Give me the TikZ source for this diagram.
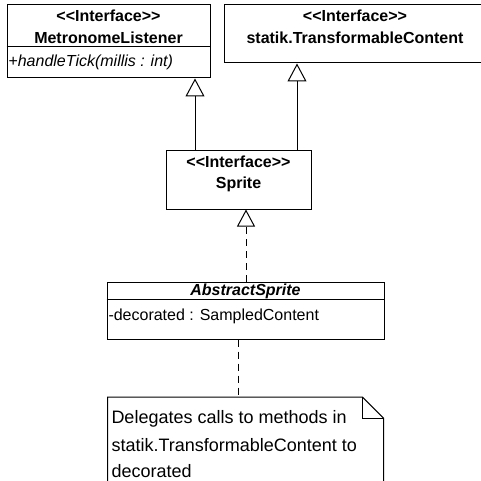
\documentclass[tikz,border=0pt]{standalone}
\usepackage{fontspec}
\setmainfont{Liberation Sans}
\usetikzlibrary{arrows.meta}

\begin{document}
\begin{tikzpicture}[x=1pt,y=-1pt,line width=1pt,
        box/.style={draw,rectangle,inner sep=0pt},
        txt/.style={inner sep=0pt,anchor=base,font=\fontsize{16}{19}\selectfont},
        notetxt/.style={inner sep=0pt,anchor=base west,font=\fontsize{18}{27}\selectfont},
        gen/.style={-{Triangle[open,length=18pt,width=19pt]}},
        dash line/.style={dash pattern=on 7pt off 5pt},
        real/.style={dash line,-{Triangle[open,length=17pt,width=18pt]}}]
         \useasboundingbox[fill=white](0,0) rectangle (481,481);
         \clip (0,0) rectangle (481,481);

         \node[box,minimum width=203pt,minimum height=73pt](M) at (108.5,41.5) {};
         \node[txt](M1) at (108.5,22) {\bfseries <{}<Interface>{}>};
         \node[txt](M2) at (108.5,43.5) {\bfseries MetronomeListener};
         \node[txt,anchor=base west](M3) at (8,67) {\itshape +handleTick(millis : int)};
         \draw(M.west |- 0,47) -- (M.east |- 0,47);

         \node[box,minimum width=262pt,minimum height=58pt](T) at (355,34) {};
         \node[txt](T1) at (355,22) {\bfseries <{}<Interface>{}>};
         \node[txt](T2) at (355,43.5) {\bfseries statik.TransformableContent};

         \node[box,minimum width=145pt,minimum height=58pt](S) at (238.5,180) {};
         \node[txt](S1) at (238.5,167.5) {\bfseries <{}<Interface>{}>};
         \node[txt](S2) at (238.5,188) {\bfseries Sprite};

         \node[box,minimum width=277pt,minimum height=57pt](A) at (245.5,310.5) {};
         \node[txt](A1) at (245.5,295) {\bfseries\itshape AbstractSprite};
         \node[txt,anchor=base west](A2) at (108,320) {-decorated : SampledContent};
         \draw(A.west |- 0,299) -- (A.east |- 0,299);

         \node[minimum width=275pt,minimum height=120pt,inner sep=0pt](N) at (245.5,457.7) {};
         \draw(N.south west) -- (N.north west) -- ([xshift=-21pt]N.north east) -- ([yshift=-21pt]N.north east) -- (N.south east);
         \draw([xshift=-21pt]N.north east) -- ++(0,21) -- ++(21,0);
         \node[notetxt](N1) at (111,423) {Delegates calls to methods in};
         \node[notetxt](N2) at (111,451) {statik.TransformableContent to};
         \node[notetxt](N3) at (111,477) {decorated};

         \draw[gen](S.north -| 195,0) -- (M.south -| 195,0);
         \draw[gen](S.north -| 297,0) -- (T.south -| 297,0);
         \draw[real](A.north -| 246,0) -- (S.south -| 246,0);
         \draw[dash line](A.south -| 238,0) -- (N.north -| 238,0);
		\end{tikzpicture}
\end{document}
